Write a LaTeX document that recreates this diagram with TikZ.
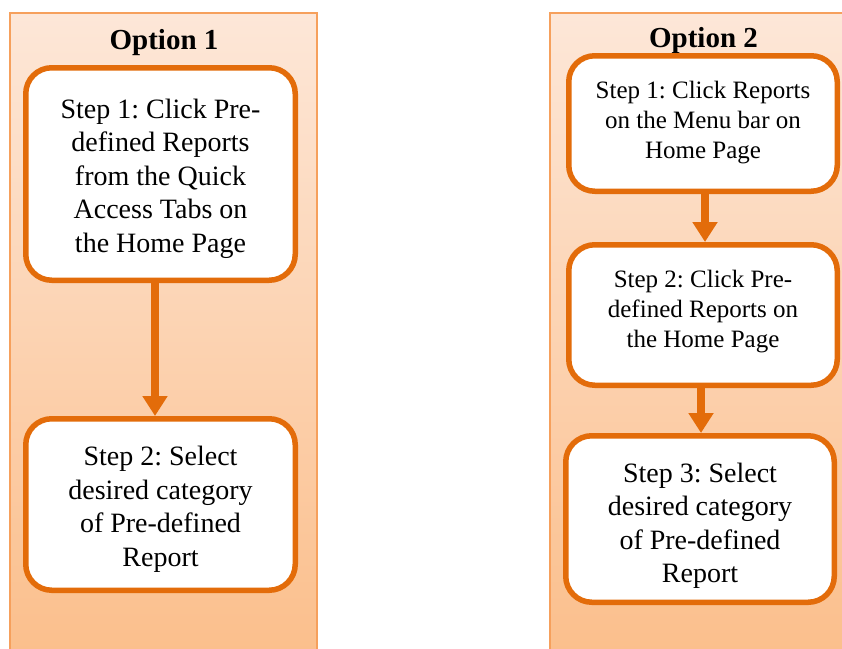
\documentclass[tikz,border=0pt]{standalone}
\usepackage{fontspec}
\setmainfont{Liberation Serif}
\frenchspacing
\usetikzlibrary{arrows.meta}
\definecolor{stepline}{HTML}{E36C0A}
\definecolor{lanetop}{HTML}{FDE7D8}
\definecolor{lanebot}{HTML}{FBBE8A}
\definecolor{laneedge}{HTML}{F6A05C}

\begin{document}
\begin{tikzpicture}[x=1pt,y=-1pt,
  lane/.style={draw=laneedge, line width=1.5pt, top color=lanetop, bottom color=lanebot},
  stepbox/.style={draw=stepline, fill=white, line width=5.5pt, rounded corners=26pt,
    inner sep=0pt},
  steptext/.style={align=center, inner sep=0pt},
  bigtext/.style={steptext, font=\fontsize{28}{33.5}\selectfont},
  smalltext/.style={steptext, font=\fontsize{25}{30}\selectfont},
  lanetitle/.style={font=\fontsize{29}{34}\selectfont\bfseries, anchor=base},
  flow/.style={draw=stepline, line width=8pt, -{Triangle[width=24pt,length=20pt]}}
]
\clip (0,0) rectangle (842,648);
\useasboundingbox (0,0) rectangle (842,648);

% swim lanes
\path[lane] (10,13) rectangle (317,670);
\path[lane] (550,13) rectangle (870,670);

% lane titles
\node[lanetitle] (t1) at (164,49.5) {Option 1};
\node[lanetitle] (t2) at (703.5,47) {Option 2};

% option 1 steps
\node[stepbox, minimum width=269.5pt, minimum height=212.5pt] (a1) at (160.5,174) {};
\node[bigtext] (a1t) at ([shift={(0,4.5)}]a1.center)
  {Step 1: Click Pre-\\defined Reports\\from the Quick\\Access Tabs on\\the Home Page};
\node[stepbox, minimum width=269.5pt, minimum height=171.5pt] (a2) at (160.5,504.5) {};
\node[bigtext] (a2t) at ([shift={(0,5)}]a2.center)
  {Step 2: Select\\desired category\\of Pre-defined\\Report};

% option 2 steps
\node[stepbox, minimum width=268.5pt, minimum height=135.5pt] (b1) at (703,123.5) {};
\node[smalltext] (b1t) at ([shift={(0,-1)}]b1.center)
  {Step 1: Click Reports\\on the Menu bar on\\Home Page};
\node[stepbox, minimum width=268.5pt, minimum height=140.5pt] (b2) at (703,315) {};
\node[smalltext] (b2t) at ([shift={(0,-3)}]b2.center)
  {Step 2: Click Pre-\\defined Reports on\\the Home Page};
\node[stepbox, minimum width=268.5pt, minimum height=166.5pt] (b3) at (700,519) {};
\node[bigtext] (b3t) at ([shift={(0,7)}]b3.center)
  {Step 3: Select\\desired category\\of Pre-defined\\Report};

% connectors
\draw[flow] ([xshift=-5.5pt]a1.south) -- ([xshift=-5.5pt]a1.south |- a2.north);
\draw[flow] ([xshift=2pt]b1.south) -- ([xshift=2pt]b1.south |- b2.north);
\draw[flow] ([xshift=-2pt]b2.south) -- ([xshift=-2pt]b2.south |- b3.north);
\end{tikzpicture}
\end{document}
